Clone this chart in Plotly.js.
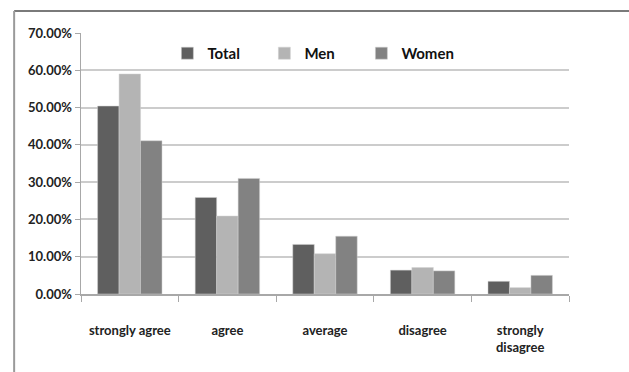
<!DOCTYPE html>
<html>
<head>
<meta charset="utf-8">
<script src="https://cdn.plot.ly/plotly-3.0.1.min.js"></script>
<style>html,body{margin:0;padding:0;background:#fff;}#chart{width:629px;height:372px;}</style>
</head>
<body>
<div id="chart"></div>
<script>
var categories = ["strongly agree", "agree", "average", "disagree", "strongly<br>disagree"];
var totalValues = [50.4, 25.9, 13.3, 6.4, 3.4];
var menValues = [59.0, 20.9, 10.8, 7.1, 1.7];
var womenValues = [41.1, 31.0, 15.5, 6.2, 5.0];
var seriesNames = ["Total", "Men", "Women"];
var seriesColors = ["#5f5f5f", "#b4b4b4", "#828282"];

var fam = "Lato, Roboto, sans-serif";
var font = {family: fam, color: "#222", size: 12, weight: "bold"};

var data = [totalValues, menValues, womenValues].map(function(vals, i) {
  return {
    type: "bar",
    name: seriesNames[i],
    x: categories,
    y: vals,
    marker: {color: seriesColors[i], line: {color: "#d0d0d0", width: 0.5}}
  };
});

var layout = {
  width: 629, height: 372,
  margin: {l: 81, r: 60, t: 33, b: 78},
  paper_bgcolor: "#fff", plot_bgcolor: "#fff",
  font: font,
  barmode: "group",
  bargap: 0.34,
  bargroupgap: 0,
  showlegend: true,
  legend: {
    orientation: "h", x: 0.177, y: 0.985, xanchor: "left", yanchor: "top",
    font: {family: fam, size: 15, color: "#111", weight: "bold"},
    bgcolor: "rgba(255,255,255,0)",
    entrywidth: 52, entrywidthmode: "pixels", itemwidth: 30
  },
  xaxis: {
    showline: true, linecolor: "#a8a8a8", linewidth: 1.5,
    ticks: "outside", tickson: "boundaries", ticklen: 6, tickcolor: "#a8a8a8",
    showgrid: false, tickangle: 0, ticklabelstandoff: 24, automargin: false,
    tickfont: {family: fam, size: 13, color: "#222", weight: "bold"}
  },
  yaxis: {
    range: [0, 70], dtick: 10, tickformat: ".2f", ticksuffix: "%",
    showline: true, linecolor: "#a8a8a8", linewidth: 1.5,
    ticks: "outside", ticklen: 5, tickcolor: "#a8a8a8",
    gridcolor: "#cccccc", gridwidth: 2, zeroline: false, automargin: false,
    tickfont: {family: fam, size: 13, color: "#222", weight: "bold"}
  },
  shapes: [
    {type: "line", xref: "paper", yref: "paper", x0: -0.137, x1: 1.2, y0: 1.084, y1: 1.084, line: {color: "#7a7a7a", width: 2}},
    {type: "line", xref: "paper", yref: "paper", x0: -0.137, x1: -0.137, y0: 1.084, y1: -0.3, line: {color: "#9a9a9a", width: 2}}
  ]
};

Plotly.newPlot("chart", data, layout, {displayModeBar: false, staticPlot: true});
</script>
</body>
</html>
